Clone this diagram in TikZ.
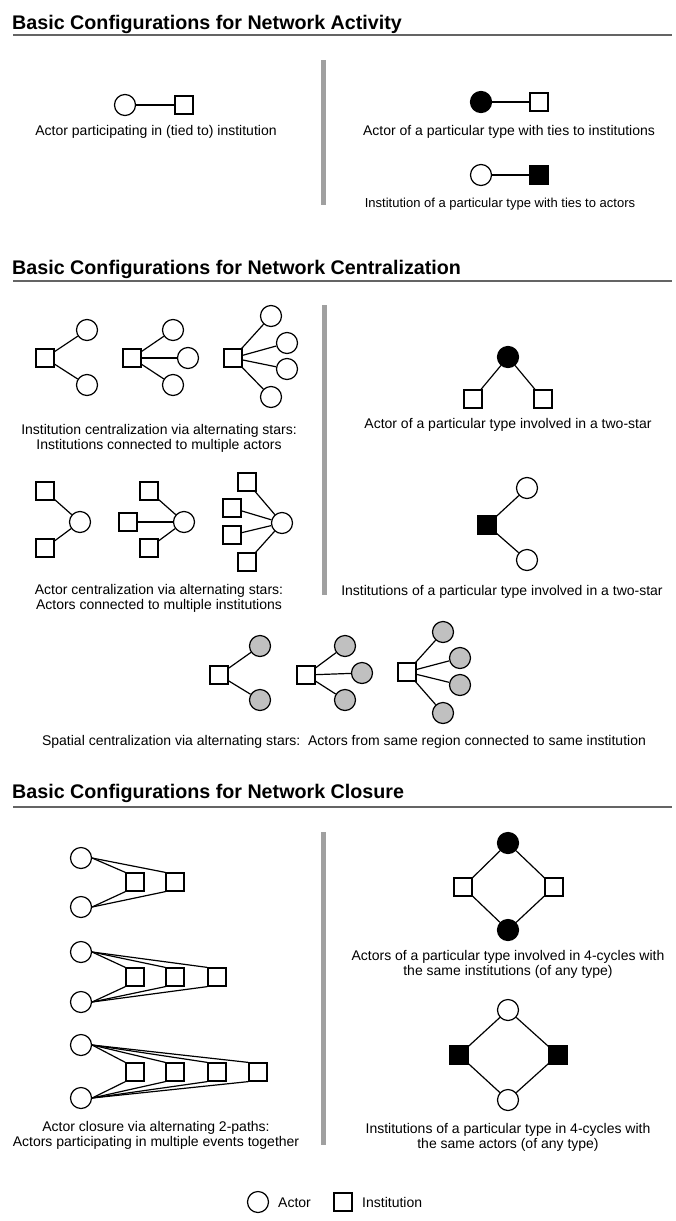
\documentclass[tikz,border=0pt]{standalone}
\usepackage{fontspec}
\setmainfont{Liberation Sans}
\usepackage{tikz}
\usetikzlibrary{shapes,positioning}
\usepackage{xcolor}
\definecolor{rulegray}{RGB}{100,100,100}
\definecolor{bargray}{RGB}{160,160,160}
\definecolor{regiongray}{RGB}{192,192,192}
\tikzstyle{actor} = [circle,draw,line width=1.2pt,minimum size=21pt,inner sep=0pt]
\tikzstyle{inst} = [rectangle,draw,line width=1.2pt,minimum size=18pt,inner sep=0pt]
\tikzstyle{tie} = [line width=1.2pt]
\tikzstyle{heading} = [anchor=base west,inner sep=0pt,font=\bfseries\fontsize{19.7}{22}\selectfont]
\tikzstyle{caption} = [anchor=base,align=center,inner sep=0pt,font=\fontsize{14}{15}\selectfont]
\tikzstyle{headrule} = [rulegray,line width=2pt]
\tikzstyle{divider} = [bargray,line width=5pt]

\begin{document}
\begin{tikzpicture}[x=1pt,y=-1pt]
\useasboundingbox (0,0) rectangle (675,1221);

% Network activity
\node[heading] (t1) at (12,29) {Basic Configurations for Network Activity};
\draw[headrule] (13,35) -- (672,35);
\draw[divider] (323,60) -- (323,205);

\node[actor] (a1) at (125,105) {};
\node[inst] (i1) at (184,105) {};
\draw[tie] (a1) -- (i1);
\node[caption] (c1) at (156,135) {Actor participating in (tied to) institution};

\node[actor,fill=black] (a2) at (481,102) {};
\node[inst] (i2) at (539,102) {};
\draw[tie] (a2) -- (i2);
\node[caption] (c2) at (509,135) {Actor of a particular type with ties to institutions};

\node[actor] (a3) at (481,175) {};
\node[inst,fill=black] (i3) at (539,175) {};
\draw[tie] (a3) -- (i3);
\node[caption,font=\fontsize{13}{15}\selectfont] (c3) at (500,207) {Institution of a particular type with ties to actors};

% Network centralization
\node[heading] (t2) at (12,274) {Basic Configurations for Network Centralization};
\draw[headrule] (13,281) -- (672,281);
\draw[divider] (324,305) -- (324,595);

% institution stars
\node[inst] (sa) at (45,358) {};
\node[actor] (sa1) at (87,330) {};
\node[actor] (sa2) at (87,385) {};
\foreach \n in {1,2} \draw[tie] (sa) -- (sa\n);

\node[inst] (sb) at (132,358) {};
\node[actor] (sb1) at (173,330) {};
\node[actor] (sb2) at (188,358) {};
\node[actor] (sb3) at (173,385) {};
\foreach \n in {1,2,3} \draw[tie] (sb) -- (sb\n);

\node[inst] (sc) at (233,358) {};
\node[actor] (sc1) at (271,316) {};
\node[actor] (sc2) at (287,343) {};
\node[actor] (sc3) at (287,369) {};
\node[actor] (sc4) at (271,397) {};
\foreach \n in {1,2,3,4} \draw[tie] (sc) -- (sc\n);

% caption base = last line
\node[caption] (c4) at (159,449) {Institution centralization via alternating stars:\\Institutions connected to multiple actors};

% actor stars
\node[actor] (sd) at (80,522) {};
\node[inst] (sd1) at (45,491) {};
\node[inst] (sd2) at (45,548) {};
\foreach \n in {1,2} \draw[tie] (sd) -- (sd\n);

\node[actor] (se) at (184,522) {};
\node[inst] (se1) at (149,491) {};
\node[inst] (se2) at (128,522) {};
\node[inst] (se3) at (149,548) {};
\foreach \n in {1,2,3} \draw[tie] (se) -- (se\n);

\node[actor] (sf) at (282,523) {};
\node[inst] (sf1) at (247,482) {};
\node[inst] (sf2) at (232,508) {};
\node[inst] (sf3) at (232,535) {};
\node[inst] (sf4) at (247,562) {};
\foreach \n in {1,2,3,4} \draw[tie] (sf) -- (sf\n);

\node[caption] (c5) at (159,609) {Actor centralization via alternating stars:\\Actors connected to multiple institutions};

% typed two-stars
\node[actor,fill=black] (ta) at (508,357) {};
\node[inst] (ta1) at (473,399) {};
\node[inst] (ta2) at (543,399) {};
\foreach \n in {1,2} \draw[tie] (ta) -- (ta\n);
\node[caption] (c6) at (508,428) {Actor of a particular type involved in a two-star};

\node[inst,fill=black] (tb) at (487,525) {};
\node[actor] (tb1) at (527,488) {};
\node[actor] (tb2) at (527,560) {};
\foreach \n in {1,2} \draw[tie] (tb) -- (tb\n);
\node[caption] (c7) at (502,595) {Institutions of a particular type involved in a two-star};

% spatial stars
\node[inst] (sg) at (219,675) {};
\node[actor,fill=regiongray] (sg1) at (260,646) {};
\node[actor,fill=regiongray] (sg2) at (260,700) {};
\foreach \n in {1,2} \draw[tie] (sg) -- (sg\n);

\node[inst] (sh) at (306,675) {};
\node[actor,fill=regiongray] (sh1) at (345,646) {};
\node[actor,fill=regiongray] (sh2) at (362,673) {};
\node[actor,fill=regiongray] (sh3) at (345,700) {};
\foreach \n in {1,2,3} \draw[tie] (sh) -- (sh\n);

\node[inst] (si) at (407,672) {};
\node[actor,fill=regiongray] (si1) at (443,632) {};
\node[actor,fill=regiongray] (si2) at (460,658) {};
\node[actor,fill=regiongray] (si3) at (460,685) {};
\node[actor,fill=regiongray] (si4) at (443,713) {};
\foreach \n in {1,2,3,4} \draw[tie] (si) -- (si\n);

\node[caption] (c8) at (344,745) {Spatial centralization via alternating stars:\ \ Actors from same region connected to same institution};

% Network closure
\node[heading] (t3) at (12,798) {Basic Configurations for Network Closure};
\draw[headrule] (13,807) -- (672,807);
\draw[divider] (323,832) -- (323,1145);

% alternating 2-paths (top actor to top corners, bottom actor to bottom corners)
\node[actor] (pa1) at (81,858) {};
\node[actor] (pa2) at (81,907) {};
\node[inst] (pa3) at (135,882) {};
\node[inst] (pa4) at (175,882) {};
\foreach \i in {3,4} {
  \draw[tie] (pa1.east) -- (pa\i.north west);
  \draw[tie] (pa2.east) -- (pa\i.south west);
}

\node[actor] (pb1) at (81,952) {};
\node[actor] (pb2) at (81,1002) {};
\node[inst] (pb3) at (135,977) {};
\node[inst] (pb4) at (175,977) {};
\node[inst] (pb5) at (217,977) {};
\foreach \i in {3,4,5} {
  \draw[tie] (pb1.east) -- (pb\i.north west);
  \draw[tie] (pb2.east) -- (pb\i.south west);
}

\node[actor] (pc1) at (81,1045) {};
\node[actor] (pc2) at (81,1098) {};
\node[inst] (pc3) at (135,1072) {};
\node[inst] (pc4) at (175,1072) {};
\node[inst] (pc5) at (217,1072) {};
\node[inst] (pc6) at (258,1072) {};
\foreach \i in {3,4,5,6} {
  \draw[tie] (pc1.east) -- (pc\i.north west);
  \draw[tie] (pc2.east) -- (pc\i.south west);
}

\node[caption] (c9) at (156,1146) {Actor closure via alternating 2-paths:\\Actors participating in multiple events together};

% typed 4-cycles
\node[actor,fill=black] (qa1) at (508,843) {};
\node[inst] (qa2) at (554,887) {};
\node[actor,fill=black] (qa3) at (508,930) {};
\node[inst] (qa4) at (463,887) {};
\draw[tie] (qa1) -- (qa2) -- (qa3) -- (qa4) -- (qa1);
\node[caption] (c10) at (508,975) {Actors of a particular type involved in 4-cycles with\\the same institutions (of any type)};

\node[actor] (qb1) at (508,1010) {};
\node[inst,fill=black] (qb2) at (558,1055) {};
\node[actor] (qb3) at (508,1100) {};
\node[inst,fill=black] (qb4) at (459,1055) {};
\draw[tie] (qb1) -- (qb2) -- (qb3) -- (qb4) -- (qb1);
\node[caption] (c11) at (508,1148) {Institutions of a particular type in 4-cycles with\\the same actors (of any type)};

% Legend
\node[actor] (la) at (258,1202) {};
\node[caption,anchor=base west] (lat) at (278,1207) {Actor};
\node[inst] (li) at (343,1202) {};
\node[caption,anchor=base west] (lit) at (362,1207) {Institution};
\end{tikzpicture}
\end{document}
